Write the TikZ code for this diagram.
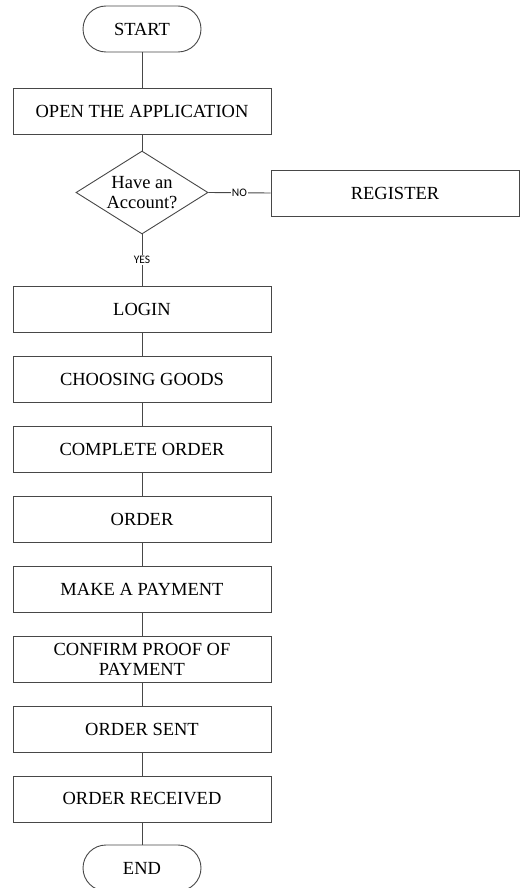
\documentclass[tikz,border=0pt]{standalone}
\usepackage{fontspec}
\setmainfont{Liberation Serif}
\newfontfamily\lblfont{Carlito}
\usetikzlibrary{shapes.geometric}
\tikzset{
  line/.style={draw=black!72, line width=0.9pt},
  procbox/.style={line, rectangle, minimum width=258pt, minimum height=46pt, inner sep=0pt, align=center, font=\fontsize{18.5}{20}\selectfont},
  termbox/.style={line, rectangle, rounded corners=23pt, minimum width=118pt, minimum height=46pt, inner sep=0pt, font=\fontsize{18.5}{20}\selectfont},
  decbox/.style={line, diamond, minimum width=132pt, minimum height=83pt, inner sep=0pt},
  txt/.style={align=center, font=\fontsize{18.5}{20}\selectfont, inner sep=0pt},
  lbl/.style={fill=white, inner sep=1pt, font=\lblfont\fontsize{11.5}{12}\selectfont}
}
\begin{document}
\begin{tikzpicture}[x=1pt,y=-1pt]
\useasboundingbox (0,0) rectangle (519,888);
\node[termbox] (start) at (142,29) {START};
\node[procbox] (open) at (142,111) {OPEN THE APPLICATION};
\node[decbox] (dec) at (142,192.5) {};
\node[txt] (dectxt) at (142,192.5) {Have an\\Account?};
\node[procbox, minimum width=248pt] (reg) at (395,193) {REGISTER};
\node[procbox] (login) at (142,309) {LOGIN};
\node[procbox] (choose) at (142,379) {CHOOSING GOODS};
\node[procbox] (complete) at (142,449) {COMPLETE ORDER};
\node[procbox] (order) at (142,519) {ORDER};
\node[procbox] (pay) at (142,589) {MAKE A PAYMENT};
\node[procbox] (confirm) at (142,659) {CONFIRM PROOF OF\\PAYMENT};
\node[procbox] (sent) at (142,729) {ORDER SENT};
\node[procbox] (recv) at (142,799) {ORDER RECEIVED};
\node[termbox] (end) at (142,868) {END};
\draw[line] (start) -- (open);
\draw[line] (open) -- (dec);
\draw[line] (dec.east) -- node[lbl] {NO} (reg.west);
\draw[line] (dec.south) -- node[lbl] {YES} (login.north);
\draw[line] (login) -- (choose);
\draw[line] (choose) -- (complete);
\draw[line] (complete) -- (order);
\draw[line] (order) -- (pay);
\draw[line] (pay) -- (confirm);
\draw[line] (confirm) -- (sent);
\draw[line] (sent) -- (recv);
\draw[line] (recv) -- (end);
\end{tikzpicture}
\end{document}
